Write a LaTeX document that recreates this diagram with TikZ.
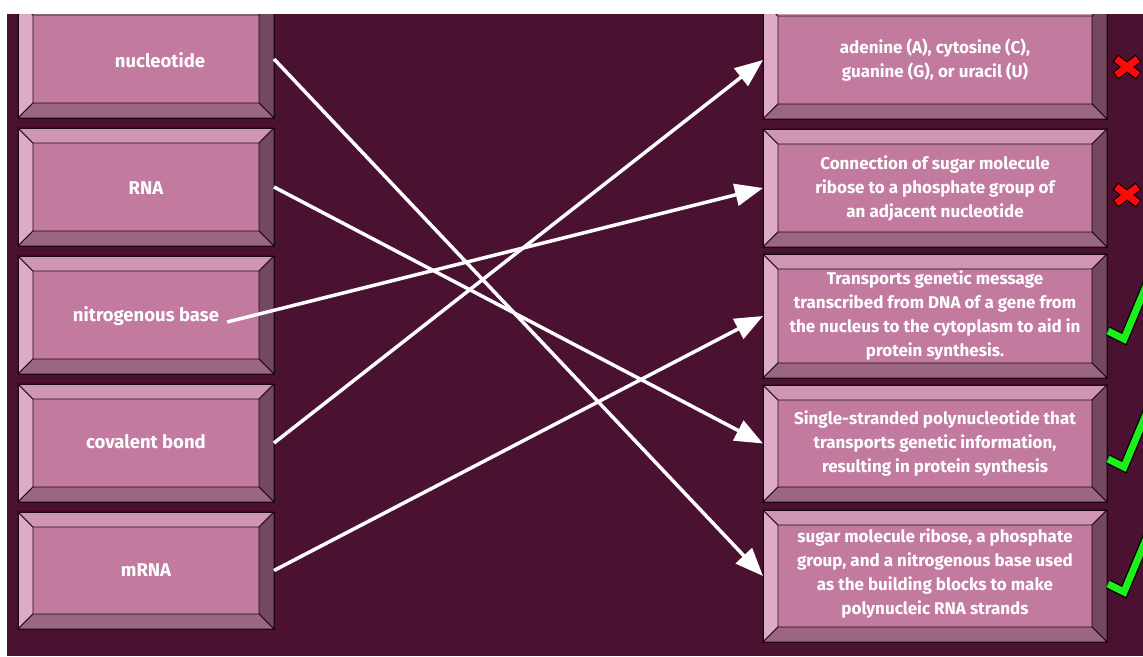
\documentclass[tikz,border=0pt]{standalone}
\usepackage{fontspec}
\setmainfont{Fira Sans}
\usetikzlibrary{arrows.meta,calc}
\definecolor{bg}{HTML}{4A1130}
\definecolor{face}{HTML}{C27B9F}
\definecolor{btop}{HTML}{CF96B4}
\definecolor{bleft}{HTML}{DDAAC7}
\definecolor{bbot}{HTML}{9B6680}
\definecolor{bright}{HTML}{744860}
\definecolor{edge}{HTML}{1E0610}
\definecolor{okgreen}{HTML}{1BF01B}
\definecolor{nored}{HTML}{FF0A0A}
\newcommand\bevelbox[2]{%
 \fill[bleft,draw=edge,line width=0.8pt] (#1.north west) -- ($(#1.north west)+(#2,#2)$) -- ($(#1.south west)+(#2,-#2)$) -- (#1.south west) -- cycle;
 \fill[btop,draw=edge,line width=0.8pt] (#1.north west) -- (#1.north east) -- ($(#1.north east)+(-#2,#2)$) -- ($(#1.north west)+(#2,#2)$) -- cycle;
 \fill[bright,draw=edge,line width=0.8pt] (#1.north east) -- (#1.south east) -- ($(#1.south east)+(-#2,-#2)$) -- ($(#1.north east)+(-#2,#2)$) -- cycle;
 \fill[bbot,draw=edge,line width=0.8pt] (#1.south west) -- (#1.south east) -- ($(#1.south east)+(-#2,-#2)$) -- ($(#1.south west)+(#2,-#2)$) -- cycle;
 \draw[edge,line width=1pt] (#1.north west) rectangle (#1.south east);
}
\tikzset{
 lbox/.style={rectangle,inner sep=0pt,outer sep=0pt,fill=face,minimum width=256pt,minimum height=118pt},
 rbox/.style={rectangle,inner sep=0pt,outer sep=0pt,fill=face,minimum width=344pt,minimum height=118pt},
 ltext/.style={inner sep=0pt,text=white,font=\fontsize{18.5}{22}\selectfont\bfseries},
 rtext/.style={inner sep=0pt,text=white,align=center,font=\fontsize{17}{24}\selectfont\bfseries},
 conn/.style={white,line width=3.5pt,-{Triangle[length=28pt,width=22pt]}},
 xmark/.style={line width=7pt,line cap=rect},
 chk/.style={line width=7pt,line join=miter},
}
\begin{document}
\begin{tikzpicture}[x=1pt,y=-1pt]
\useasboundingbox (0,0) rectangle (1143,656);
\fill[white] (0,0) rectangle (1143,656);
\begin{scope}
\clip (7,14) rectangle (1143,656);
\fill[bg] (7,14) rectangle (1143,656);
% left boxes
\node[lbox] (l1) at (146,59) {};
\node[lbox] (l2) at (146,187) {};
\node[lbox] (l3) at (146,315) {};
\node[lbox] (l4) at (146,443) {};
\node[lbox,minimum height=117pt] (l5) at (146,570.5) {};
\bevelbox{l1}{15}\bevelbox{l2}{15}\bevelbox{l3}{15}\bevelbox{l4}{15}\bevelbox{l5}{15}
% right boxes
\node[rbox] (r1) at (935,60) {};
\node[rbox] (r2) at (935,188) {};
\node[rbox,minimum height=124pt] (r3) at (935,316) {};
\node[rbox,minimum height=117pt] (r4) at (935,443.5) {};
\node[rbox,minimum height=132pt] (r5) at (935,576) {};
\bevelbox{r1}{15}\bevelbox{r2}{15}\bevelbox{r3}{15}\bevelbox{r4}{15}\bevelbox{r5}{15}
% left labels
\node[ltext] (t1) at (160,60) {nucleotide};
\node[ltext] (t2) at (146,188) {RNA};
\node[ltext] (t3) at (146,316) {nitrogenous base};
\node[ltext] (t4) at (146,442) {covalent bond};
\node[ltext] (t5) at (146,570) {mRNA};
% right texts
\node[rtext] (d1) at (935,60) {adenine (A), cytosine (C),\\guanine (G), or uracil (U)};
\node[rtext] (d2) at (935,188) {Connection of sugar molecule\\ribose to a phosphate group of\\an adjacent nucleotide};
\node[rtext] (d3) at (935,315) {Transports genetic message\\transcribed from DNA of a gene from\\the nucleus to the cytoplasm to aid in\\protein synthesis.};
\node[rtext] (d4) at (935,443) {Single-stranded polynucleotide that\\transports genetic information,\\resulting in protein synthesis};
\node[rtext] (d5) at (935,573) {sugar molecule ribose, a phosphate\\group, and a nitrogenous base used\\as the building blocks to make\\polynucleic RNA strands};
% connectors
\draw[conn] (l1.east) -- (r5.west);
\draw[conn] (l2.east) -- (r4.west);
\draw[conn] ($(t3.east)+(8,6)$) -- (r2.west);
\draw[conn] (l4.east) -- (r1.west);
\draw[conn] (l5.east) -- (r3.west);
% red crosses
\foreach \cy in {67,195}{
 \draw[xmark,black,line width=9pt] (1119,\cy-6) -- (1135,\cy+6) (1119,\cy+6) -- (1135,\cy-6);
 \draw[xmark,nored] (1119,\cy-6) -- (1135,\cy+6) (1119,\cy+6) -- (1135,\cy-6);
}
% green checks
\foreach \cy in {339,467,592}{
 \draw[chk,black,line width=9.5pt] (1108,\cy-8) -- (1124,\cy) -- (1150,\cy-62);
 \draw[chk,okgreen] (1108,\cy-8) -- (1124,\cy) -- (1150,\cy-62);
}
\end{scope}
\end{tikzpicture}
\end{document}
